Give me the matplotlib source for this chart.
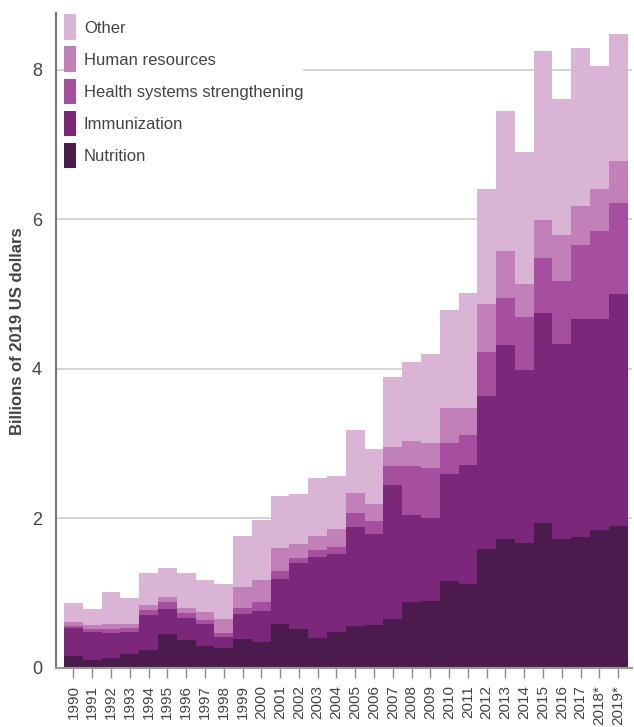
import numpy as np
import matplotlib
matplotlib.use("Agg")
import matplotlib.pyplot as plt
from matplotlib.patches import Patch

plt.rcParams['font.family'] = ['Liberation Sans', 'DejaVu Sans']

years = ["1990", "1991", "1992", "1993", "1994", "1995", "1996", "1997", "1998", "1999",
         "2000", "2001", "2002", "2003", "2004", "2005", "2006", "2007", "2008", "2009",
         "2010", "2011", "2012", "2013", "2014", "2015", "2016", "2017", "2018*", "2019*"]

nutrition = [0.16, 0.107, 0.134, 0.187, 0.241, 0.454, 0.374, 0.294, 0.267, 0.388,
             0.348, 0.588, 0.521, 0.401, 0.481, 0.561, 0.575, 0.655, 0.882, 0.896,
             1.163, 1.123, 1.591, 1.725, 1.671, 1.938, 1.725, 1.751, 1.845, 1.898]
immunization = [0.375, 0.374, 0.334, 0.294, 0.468, 0.335, 0.294, 0.294, 0.147, 0.334,
                0.414, 0.602, 0.883, 1.083, 1.043, 1.324, 1.216, 1.792, 1.163, 1.109,
                1.431, 1.591, 2.045, 2.593, 2.313, 2.808, 2.607, 2.915, 2.821, 3.102]
hss = [0.025, 0.04, 0.053, 0.054, 0.066, 0.093, 0.067, 0.054, 0.054, 0.08,
       0.12, 0.107, 0.067, 0.094, 0.094, 0.187, 0.174, 0.253, 0.655, 0.669,
       0.414, 0.401, 0.589, 0.629, 0.709, 0.735, 0.842, 0.989, 1.176, 1.217]
human_resources = [0.055, 0.054, 0.067, 0.053, 0.067, 0.067, 0.067, 0.107, 0.187, 0.281,
                   0.294, 0.307, 0.187, 0.187, 0.24, 0.268, 0.228, 0.255, 0.335, 0.334,
                   0.468, 0.361, 0.641, 0.628, 0.441, 0.508, 0.615, 0.521, 0.562, 0.561]
other = [0.255, 0.214, 0.428, 0.348, 0.428, 0.388, 0.468, 0.427, 0.468, 0.682,
         0.803, 0.695, 0.668, 0.775, 0.709, 0.842, 0.735, 0.935, 1.056, 1.19,
         1.31, 1.537, 1.538, 1.872, 1.764, 2.26, 1.818, 2.113, 1.644, 1.698]

series_names = ["Nutrition", "Immunization", "Health systems strengthening",
                "Human resources", "Other"]
series = [nutrition, immunization, hss, human_resources, other]
colors = ["#4b1b4e", "#7b287b", "#a64f9e", "#c280b8", "#dab4d4"]

fig = plt.figure(figsize=(6.34, 7.27), dpi=100)
ax = fig.add_axes([0.0883, 0.0812, 0.9087, 0.9008])

n = len(years)
edges = np.arange(n + 1) - 0.5
bottom = np.zeros(n)
for vals, c in zip(series, colors):
    v = np.array(vals)
    ax.stairs(bottom + v, edges, baseline=bottom, fill=True, color=c, lw=0, zorder=2)
    bottom = bottom + v

ax.set_xlim(-0.93, 29.74)
ax.set_ylim(0, 8.757)
ax.set_yticks([0, 2, 4, 6, 8])
ax.set_xticks(np.arange(n))
ax.set_xticklabels(years, rotation=90, fontsize=11, color="#444444")
ax.tick_params(axis='x', length=7, width=1, color="#888888", pad=5)
ax.tick_params(axis='y', length=0, labelsize=13, labelcolor="#444444", pad=10)
ax.yaxis.grid(True, color="#cccccc", lw=1.2, zorder=0)
ax.set_axisbelow(True)
for s in ["top", "right"]:
    ax.spines[s].set_visible(False)
ax.spines["left"].set_color("#777777")
ax.spines["left"].set_linewidth(1.5)
ax.spines["bottom"].set_color("#999999")
ax.spines["bottom"].set_linewidth(1.5)
ax.set_ylabel("Billions of 2019 US dollars", fontsize=12, fontweight="bold",
              color="#444444")
ax.yaxis.set_label_coords(-0.054, 0.514)

handles = [Patch(facecolor=c, edgecolor='none') for c in colors[::-1]]
leg = ax.legend(handles, series_names[::-1], loc="upper left", bbox_to_anchor=(0.0139, 0.998),
                fontsize=12, frameon=True, facecolor="white", edgecolor="none",
                framealpha=1, handlelength=0.75, handleheight=2.0, labelspacing=0.38,
                handletextpad=0.45, borderpad=0.0, borderaxespad=0.0)
for t in leg.get_texts():
    t.set_color("#444444")
leg.set_zorder(5)

fig.savefig("out.png", dpi=100, facecolor="white")
